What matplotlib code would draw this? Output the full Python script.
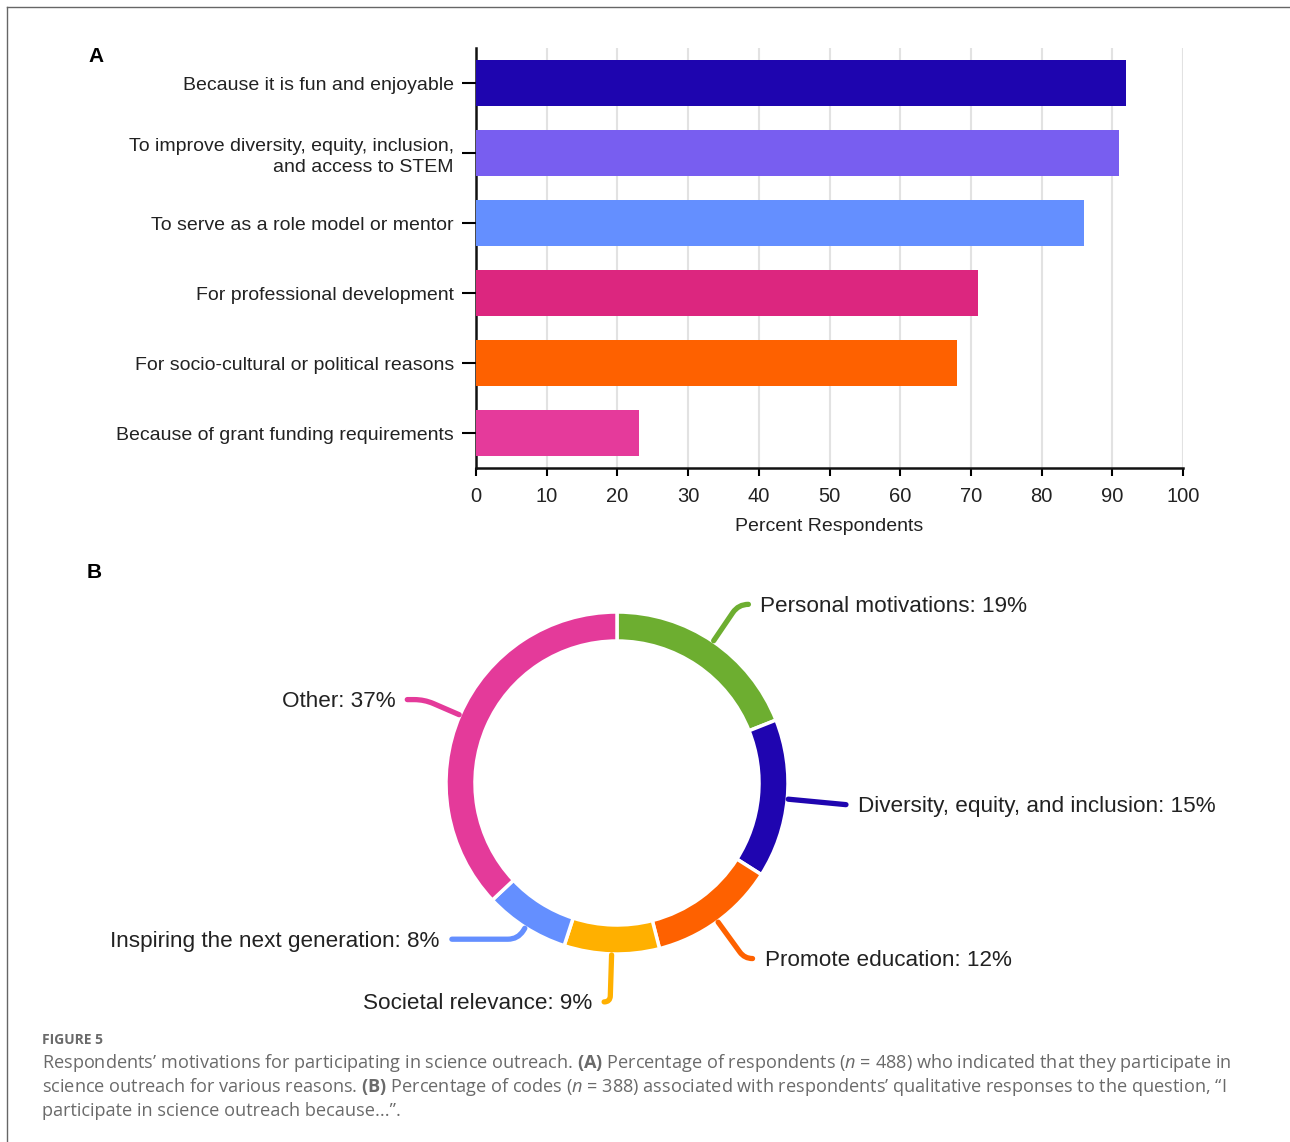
import numpy as np
import matplotlib.pyplot as plt
import matplotlib.transforms as mtransforms
from matplotlib.path import Path
from matplotlib.patches import PathPatch
from matplotlib.lines import Line2D

plt.rcParams['font.family'] = ['Liberation Sans', 'DejaVu Sans']
plt.rcParams['mathtext.fontset'] = 'custom'
plt.rcParams['mathtext.rm'] = 'Open Sans'
plt.rcParams['mathtext.it'] = 'Open Sans:italic'
plt.rcParams['mathtext.bf'] = 'Open Sans:bold'

# panel A data
reasons = ["Because it is fun and enjoyable",
           "To improve diversity, equity, inclusion,\nand access to STEM",
           "To serve as a role model or mentor",
           "For professional development",
           "For socio-cultural or political reasons",
           "Because of grant funding requirements"]
percent = [92, 91, 86, 71, 68, 23]
bar_colors = ['#1E05AF', '#785EF0', '#648FFF', '#DC267F', '#FE6100', '#E53A9B']
x_ticks = [0, 10, 20, 30, 40, 50, 60, 70, 80, 90, 100]

# panel B data
codes = ["Personal motivations", "Diversity, equity, and inclusion",
         "Promote education", "Societal relevance",
         "Inspiring the next generation", "Other"]
code_pct = [19, 15, 12, 9, 8, 37]
code_colors = ['#6DAE30', '#1F05B0', '#FE6100', '#FFB000', '#648FFF', '#E43A9A']

W, H = 1290, 1142
fig = plt.figure(figsize=(W / 100, H / 100), dpi=100)

# ---- donut (pixel-like coordinates, y up) ----
ax2 = fig.add_axes([0, 0, 1, 1])
cx, cy = 617, H - 783
R, ring = 171, 29
ax2.pie(code_pct, colors=code_colors, startangle=90, counterclock=False,
        radius=R, center=(cx, cy),
        wedgeprops=dict(width=ring, edgecolor='white', linewidth=2.5))
ax2.set_xlim(0, W)
ax2.set_ylim(0, H)
ax2.set_aspect('auto')
ax2.axis('off')

# leader line layout: elbow radius, horizontal run
elbow = [216, 230, 217, 219, 185, 210]
hrun = [10, 0, 8, 6, 66, 17]

cum = np.cumsum([0] + code_pct)
for i, name in enumerate(codes):
    mid = np.radians((cum[i] + cum[i + 1]) / 2 / 100 * 360)
    u = np.array([np.sin(mid), np.cos(mid)])
    side = 1 if u[0] >= 0 else -1
    s = np.array([cx, cy]) + (R + 1) * u
    k = np.array([cx, cy]) + elbow[i] * u
    e = k + np.array([side * hrun[i], 0])
    if hrun[i] > 0:
        rr = min(10, hrun[i])
        pa = k - rr * u
        pb = k + np.array([side * rr, 0])
        verts = [s, pa, k, pb, e]
        cmds = [Path.MOVETO, Path.LINETO, Path.CURVE3, Path.CURVE3, Path.LINETO]
    else:
        verts = [s, k]
        cmds = [Path.MOVETO, Path.LINETO]
    ax2.add_patch(PathPatch(Path(verts, cmds), facecolor='none',
                            edgecolor=code_colors[i], lw=3.8,
                            capstyle='round', joinstyle='round'))
    ax2.text(e[0] + side * 12, e[1] - 2, f"{name}: {code_pct[i]}%",
             ha='left' if side > 0 else 'right', va='center',
             fontsize=16.2, color='#222222')

# ---- bar chart ----
ax = fig.add_axes([476 / W, 1 - 468 / H, (1183 - 476) / W, (468 - 48) / H])
y = np.arange(len(reasons))
ax.barh(y, percent, height=0.65, color=bar_colors, zorder=3)
ax.set_ylim(len(reasons) - 0.5, -0.5)
ax.set_xlim(0, 100)
ax.set_yticks(y)
ax.set_yticklabels(reasons, fontsize=14, color='#222222', ha='right',
                   linespacing=1.3)
# labels sit a few pixels below the bar centres in the original
shift = mtransforms.ScaledTranslation(0, -4 / 100, fig.dpi_scale_trans)
for lab in ax.get_yticklabels():
    lab.set_transform(lab.get_transform() + shift)
ax.set_xticks(x_ticks)
ax.set_xticklabels([str(t) for t in x_ticks], fontsize=14.5, color='#222222')
ax.set_xlabel("Percent Respondents", fontsize=14, color='#222222', labelpad=8)
ax.tick_params(axis='y', length=10, width=1.5, pad=6)
ax.tick_params(axis='x', length=6, width=1.5, pad=8)
ax.xaxis.grid(True, color='#e2e2e2', lw=1.5, zorder=0)
ax.set_axisbelow(True)
for sp in ['top', 'right']:
    ax.spines[sp].set_visible(False)
for sp in ['left', 'bottom']:
    ax.spines[sp].set_linewidth(1.8)
    ax.spines[sp].set_color('#111111')

# panel letters
fig.text(88 / W, 1 - 56 / H, "A", fontsize=15, fontweight='bold', va='center')
fig.text(87 / W, 1 - 572 / H, "B", fontsize=15, fontweight='bold', va='center')

# caption
cap_color = '#6a6a6a'
fig.text(42 / W, 1 - 1040 / H, "FIGURE 5", fontsize=10, fontweight='bold',
         family='Open Sans', color=cap_color, va='center')
lines = [
    "Respondents\u2019 motivations for participating in science outreach. $\\mathbf{(A)}$ "
    "Percentage of respondents ($n$ = 488) who indicated that they participate in",
    "science outreach for various reasons. $\\mathbf{(B)}$ Percentage of codes ($n$ = 388) "
    "associated with respondents\u2019 qualitative responses to the question, \u201cI",
    "participate in science outreach because...\u201d.",
]
for j, ln in enumerate(lines):
    fig.text(42 / W, 1 - (1063 + 24 * j) / H, ln, fontsize=13.1, family='Open Sans',
             color=cap_color, va='center')

# frame lines
fig.add_artist(Line2D([7 / W, 1], [1 - 7 / H, 1 - 7 / H], color='#666666', lw=1))
fig.add_artist(Line2D([7 / W, 7 / W], [0, 1 - 7 / H], color='#666666', lw=1))

fig.savefig("out.png", dpi=100)
